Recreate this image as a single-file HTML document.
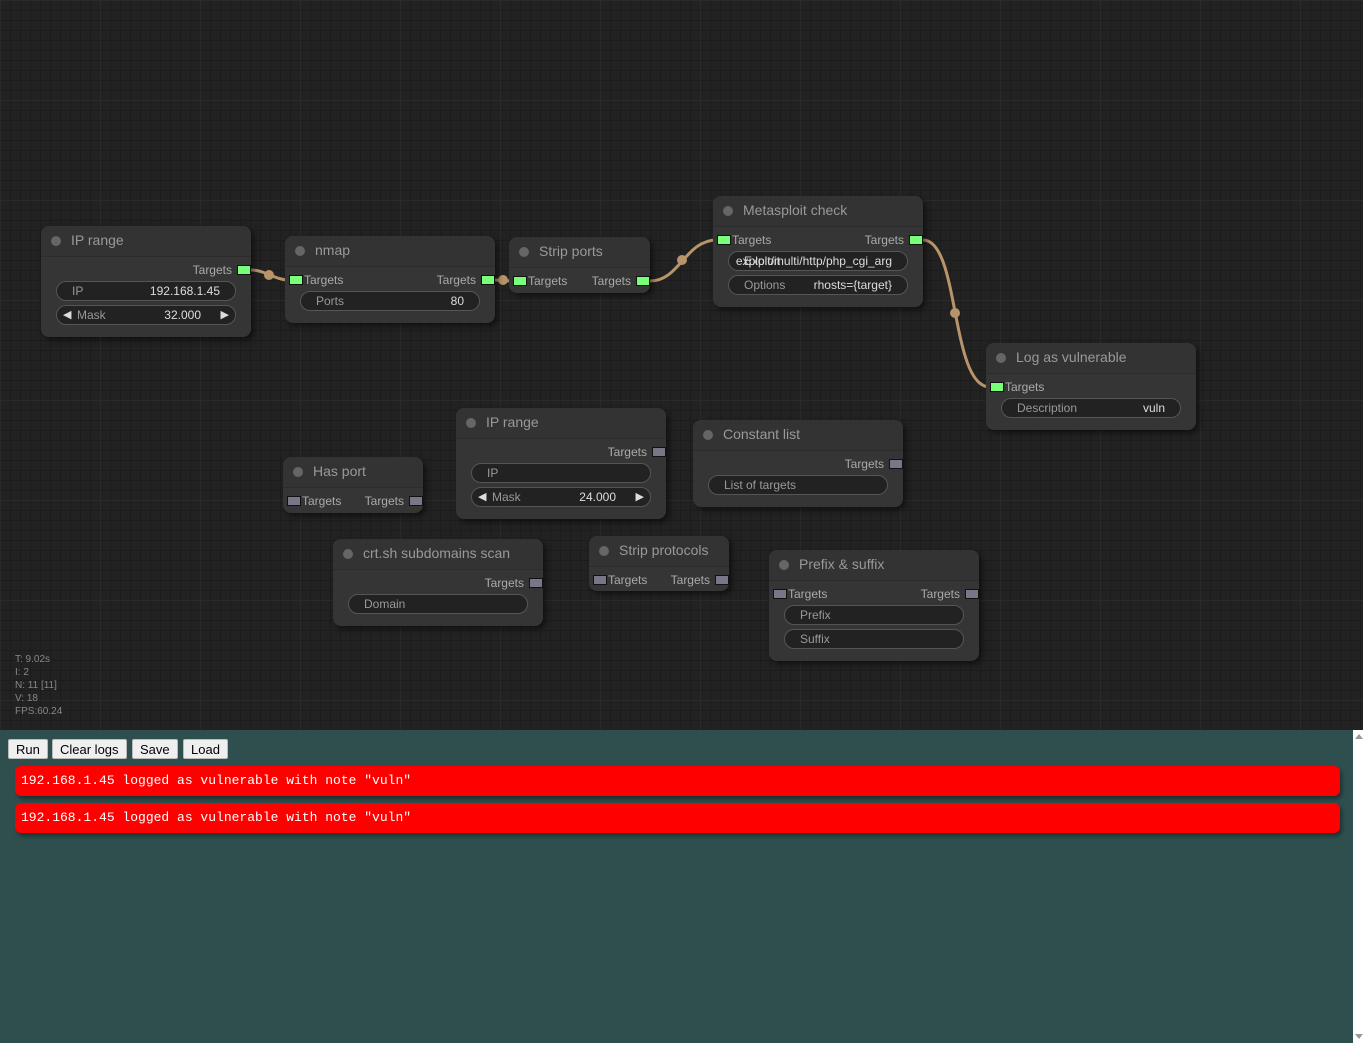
<!DOCTYPE html>
<html><head><meta charset="utf-8">
<style>
html,body{margin:0;padding:0;width:1363px;height:1043px;overflow:hidden;font-family:"Liberation Sans",Arial,sans-serif;}
#canvas{position:absolute;left:0;top:0;width:1363px;height:730px;background-color:#222;
background-image:linear-gradient(#2a2a2a 1px,transparent 1px),linear-gradient(90deg,#2a2a2a 1px,transparent 1px),linear-gradient(#1c1c1c 1px,transparent 1px),linear-gradient(90deg,#1c1c1c 1px,transparent 1px);
background-size:100px 100px,100px 100px,10px 10px,10px 10px;background-position:0 0,0 0,0 0,0 0;}
.node{position:absolute;background:#353535;border-radius:8px;box-shadow:3px 3px 6px rgba(0,0,0,.5);}
.title{position:absolute;left:0;top:0;right:0;height:30px;background:#333;border-radius:8px 8px 0 0;border-bottom:1px solid #2c2c2c;color:#999;font-size:14px;line-height:29px;padding-left:30px;}
.title:before{content:"";position:absolute;left:10px;top:10px;width:10px;height:10px;border-radius:50%;background:#666;}
.slot{position:absolute;width:12px;height:8px;border:1px solid #111;}
.on{background:#7f7;}.off{background:#778;}
.lbl{position:absolute;color:#aaa;font-size:12px;line-height:14px;}
.w{position:absolute;height:18px;border:1px solid #555;border-radius:10px;background:#222;color:#999;font-size:12px;line-height:18px;}
.w .l{position:absolute;left:15px;top:0}
.w .v{position:absolute;right:15px;top:0;color:#ddd}
.arr{position:absolute;top:0;color:#ddd;font-size:11px}
#panel{position:absolute;left:0;top:730px;width:1353px;height:313px;background:#2f4f4f;}
#sb{position:absolute;left:1353px;top:730px;width:10px;height:313px;background:#fff;}
button{position:absolute;top:9px;height:20px;font-family:"Liberation Sans",Arial,sans-serif;font-size:13px;background:#efefef;border:1px solid #bbb;border-radius:2px;padding:0 7px;}
.log{position:absolute;left:15px;width:1325px;height:30px;background:#f00;border-radius:6px;box-shadow:2px 3px 4px rgba(0,0,0,.4);color:#fff;font-family:"Liberation Mono",monospace;font-size:13px;line-height:30px;padding-left:6px;box-sizing:border-box;}
.stats{position:absolute;left:15px;top:653px;color:#888;font-size:10px;line-height:13px;}
</style></head><body>
<div id="canvas"></div>
<svg width="1363" height="730" style="position:absolute;left:0;top:0">
<g fill="none" stroke="#b8946a" stroke-width="3">
<path d="M251 270 C265 270 275 280 289 280"/>
<path d="M495 280 C500 280 505 281 513 281"/>
<path d="M650 281 C680 281 685 240 717 240"/>
<path d="M923 240 C960 240 950 387 990 387"/>
</g>
<g fill="#b8946a">
<circle cx="269" cy="275" r="5"/><circle cx="503" cy="280" r="5"/><circle cx="682" cy="260" r="5"/><circle cx="955" cy="313" r="5"/>
</g>
</svg>
<div id="nodes"></div>
<div class="stats">T: 9.02s<br>I: 2<br>N: 11 [11]<br>V: 18<br>FPS:60.24</div>
<div id="panel">
<button style="left:8px">Run</button>
<button style="left:52px">Clear logs</button>
<button style="left:132px">Save</button>
<button style="left:183px">Load</button>
<div class="log" style="top:36px">192.168.1.45 logged as vulnerable with note "vuln"</div>
<div class="log" style="top:73px">192.168.1.45 logged as vulnerable with note "vuln"</div>
</div>
<div id="sb"><div style="position:absolute;left:2px;top:4px;width:0;height:0;border-left:4px solid transparent;border-right:4px solid transparent;border-bottom:5px solid #999"></div><div style="position:absolute;left:2px;bottom:4px;width:0;height:0;border-left:4px solid transparent;border-right:4px solid transparent;border-top:5px solid #999"></div></div>
<script>
var N=[
{x:41,y:226,w:210,h:111,t:"IP range",o:["Targets",1],ws:[["IP","192.168.1.45"],["Mask","32.000",1]]},
{x:285,y:236,w:210,h:87,t:"nmap",i:["Targets",1],o:["Targets",1],ws:[["Ports","80"]]},
{x:509,y:237,w:141,h:56,t:"Strip ports",i:["Targets",1],o:["Targets",1],ws:[]},
{x:713,y:196,w:210,h:111,t:"Metasploit check",i:["Targets",1],o:["Targets",1],ws:[["Exploit","exploit/multi/http/php_cgi_arg",0,1],["Options","rhosts={target}"]]},
{x:986,y:343,w:210,h:87,t:"Log as vulnerable",i:["Targets",1],ws:[["Description","vuln"]]},
{x:456,y:408,w:210,h:111,t:"IP range",o:["Targets",0],ws:[["IP",""],["Mask","24.000",1]]},
{x:283,y:457,w:140,h:56,t:"Has port",i:["Targets",0],o:["Targets",0],ws:[]},
{x:693,y:420,w:210,h:87,t:"Constant list",o:["Targets",0],ws:[["List of targets",""]]},
{x:333,y:539,w:210,h:87,t:"crt.sh subdomains scan",o:["Targets",0],ws:[["Domain",""]]},
{x:589,y:536,w:140,h:55,t:"Strip protocols",i:["Targets",0],o:["Targets",0],ws:[]},
{x:769,y:550,w:210,h:111,t:"Prefix & suffix",i:["Targets",0],o:["Targets",0],ws:[["Prefix",""],["Suffix",""]]}
];
var h="";
N.forEach(function(n){
h+='<div class="node" style="left:'+n.x+'px;top:'+n.y+'px;width:'+n.w+'px;height:'+n.h+'px"><div class="title">'+n.t.replace("&","&amp;")+'</div>';
if(n.i){h+='<div class="slot '+(n.i[1]?'on':'off')+'" style="left:4px;top:39px"></div><div class="lbl" style="left:19px;top:37px">'+n.i[0]+'</div>';}
if(n.o){h+='<div class="slot '+(n.o[1]?'on':'off')+'" style="right:0px;top:39px"></div><div class="lbl" style="right:19px;top:37px">'+n.o[0]+'</div>';}
n.ws.forEach(function(w,k){
var top=55+k*24;
h+='<div class="w" style="left:15px;right:15px;top:'+top+'px">';
if(w[2]){h+='<span class="arr" style="left:6px">&#9664;</span><span class="arr" style="right:6px">&#9654;</span><span class="l" style="left:20px">'+w[0]+'</span><span class="v" style="right:34px">'+w[1]+'</span>';}
else if(w[3]){h+='<span class="l" style="left:15px;color:#ccc">Exploit</span><span class="v" style="right:15px">'+w[1]+'</span>';}
else{h+='<span class="l">'+w[0]+'</span><span class="v">'+w[1]+'</span>';}
h+='</div>';});
h+='</div>';});
document.getElementById("nodes").innerHTML=h;
</script>
</body></html>
